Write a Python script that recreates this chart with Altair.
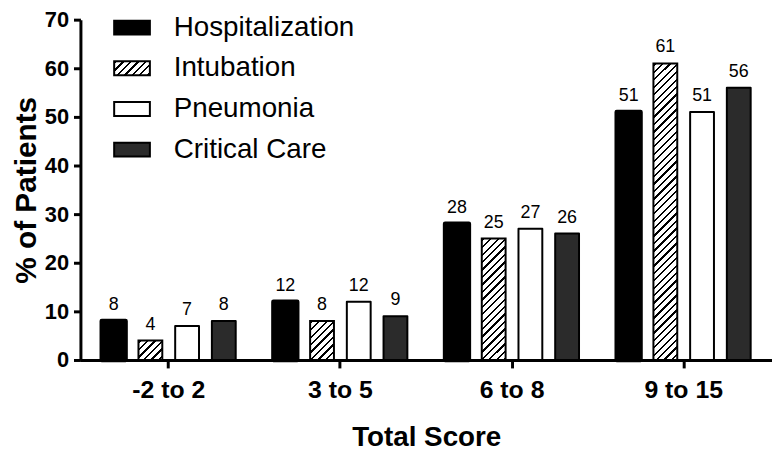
import json
import altair as alt
import pandas as pd

# ---- data ----
groups = ["-2 to 2", "3 to 5", "6 to 8", "9 to 15"]
series = ["Hospitalization", "Intubation", "Pneumonia", "Critical Care"]
hospitalization = [8, 12, 28, 51]
intubation = [4, 8, 25, 61]
pneumonia = [7, 12, 27, 51]
critical_care = [8, 9, 26, 56]
y_ticks = [0, 10, 20, 30, 40, 50, 60, 70]

rows = []
for s, vals in zip(series, [hospitalization, intubation, pneumonia, critical_care]):
    for g, v in zip(groups, vals):
        rows.append({"group": g, "series": s, "value": v})
df = pd.DataFrame(rows)

# ---- layout ----
PLOT_W, PLOT_H = 697, 343
Y_MAX = 70
BAR_W = 24.0
FONT = "Liberation Sans"


def hatch(w, h, period=7.5, line=2.3):
    """Diagonal '/' hatch as a linear gradient in bounding-box units."""
    total = w + h
    k = total / (w * w + h * h)
    stops = [{"offset": 0, "color": "white"}]
    s = 1.0
    while s < total:
        a = round(s / total, 5)
        b = round(min((s + line) / total, 1.0), 5)
        stops += [
            {"offset": a, "color": "white"},
            {"offset": a, "color": "black"},
            {"offset": b, "color": "black"},
            {"offset": b, "color": "white"},
        ]
        s += period
    stops.append({"offset": 1, "color": "white"})
    return {"gradient": "linear", "x1": 0, "y1": 0,
            "x2": round(w * k, 5), "y2": round(h * k, 5), "stops": stops}


legend_hatch = hatch(36, 14, period=7.5, line=2.3)

x_enc = alt.X(
    "group:N",
    sort=groups,
    scale=alt.Scale(domain=groups, paddingInner=0, paddingOuter=0.01445),
    axis=alt.Axis(
        title="Total Score", labelAngle=0,
        labelFont=FONT, labelFontSize=25, labelFontWeight="bold", labelColor="black",
        labelPadding=10, tickSize=8, tickWidth=3, tickColor="black",
        domainWidth=3, domainColor="black",
        titleFont=FONT, titleFontSize=28, titleFontWeight="bold", titleColor="black",
        titleY=86, titleBaseline="alphabetic",
    ),
)
xo_enc = alt.XOffset(
    "series:N",
    sort=series,
    scale=alt.Scale(domain=series, paddingInner=0.351, paddingOuter=0.5135),
)
y_enc = alt.Y(
    "value:Q",
    scale=alt.Scale(domain=[0, Y_MAX], nice=False),
    axis=alt.Axis(
        title="% of Patients", values=y_ticks, grid=False,
        labelFont=FONT, labelFontSize=22, labelFontWeight="bold", labelColor="black",
        labelPadding=5, tickSize=7, tickWidth=3, tickColor="black",
        domainWidth=3, domainColor="black",
        titleFont=FONT, titleFontSize=30, titleFontWeight="bold", titleColor="black",
        titleX=-45, titleBaseline="alphabetic",
    ),
)

fill_enc = alt.Fill(
    "series:N",
    sort=series,
    scale=alt.Scale(
        domain=series,
        range=["#000000", {"expr": json.dumps(legend_hatch)}, "#ffffff", "#2b2b2b"],
    ),
    legend=alt.Legend(
        title=None, orient="none", legendX=33, legendY=-11,
        symbolType="M-1,-0.39H1V0.39H-1Z", symbolSize=1296,
        symbolStrokeColor="black", symbolStrokeWidth=2,
        labelFont=FONT, labelFontSize=28, labelColor="black",
        labelOffset=23, rowPadding=8, padding=0, labelLimit=400,
    ),
)

base = alt.Chart(df)

main = base.transform_filter(alt.datum.series != "Intubation").mark_bar(
    stroke="black", strokeJoin="round"
).encode(
    x=x_enc, xOffset=xo_enc, y=y_enc, fill=fill_enc,
    strokeWidth=alt.condition(alt.datum.series == "Hospitalization", alt.value(4.5), alt.value(2)),
)

layers = [main]
for g, v in zip(groups, intubation):
    h = v / Y_MAX * PLOT_H
    layers.append(
        base.transform_filter(
            (alt.datum.series == "Intubation") & (alt.datum.group == g)
        ).mark_bar(fill=hatch(BAR_W, h), stroke="black", strokeWidth=2)
        .encode(x=x_enc, xOffset=xo_enc, y=y_enc)
    )

labels = base.mark_text(
    dy=-11, baseline="alphabetic", fontSize=18, font=FONT, color="black"
).encode(x=x_enc, xOffset=xo_enc, y=y_enc, text="value:Q")
layers.append(labels)

chart = alt.layer(*layers).properties(
    width=PLOT_W,
    height=PLOT_H,
    padding={"left": 73, "top": 10, "right": 0, "bottom": 92},
    autosize=alt.AutoSizeParams(type="none"),
    background="white",
).configure_view(strokeWidth=0)

chart.save("out.html", embed_options={"renderer": "svg", "actions": False})
